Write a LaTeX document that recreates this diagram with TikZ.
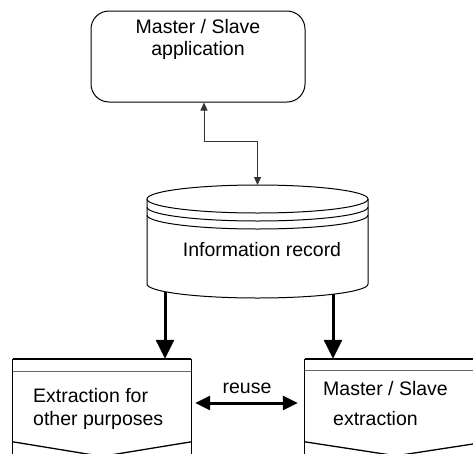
\documentclass[tikz,border=0pt]{standalone}
\usepackage{fontspec}
\setmainfont{Liberation Sans}
\usetikzlibrary{arrows.meta}

\begin{document}
\begin{tikzpicture}[x=1pt,y=1pt,
  every node/.style={font=\fontsize{19.5}{22.5}\selectfont, inner sep=0pt},
  frame/.style={draw=black, line width=1pt},
  boxside/.style={draw=black, line width=1.3pt},
  boxtop/.style={draw=black, line width=1.8pt},
  boxrule/.style={draw=black!60, line width=1pt},
  placeholder/.style={draw=none, rectangle},
  thinarrow/.style={draw=black!80, line width=0.9pt,
    {Triangle[length=8pt,width=7pt]}-{Triangle[length=8pt,width=7pt]}},
  boldarrow/.style={line width=3pt, -{Triangle[length=19pt,width=18pt]}},
  reusearrow/.style={line width=3pt,
    {Triangle[length=15pt,width=14pt]}-{Triangle[length=15pt,width=14pt]}},
]
\useasboundingbox (0,0) rectangle (473,-453);
\clip (0,0) rectangle (473,-453);

% application box
\node[frame, rounded corners=18pt, minimum width=214pt, minimum height=91pt] (app) at (198,-56.5) {};
\node[align=center, anchor=north] (apptext) at (198,-19) {Master / Slave\\application};

% information record (stacked cylinder)
\coordinate (cyltop) at (257.5,-199);
\coordinate (rectop) at (257.5,-185);
\draw[frame] (cyltop) ellipse [x radius=110.5, y radius=14];
\draw[frame] ([shift={(-110.5,-8)}]cyltop) arc[start angle=180, end angle=360, x radius=110.5, y radius=14];
\draw[frame] ([shift={(-110.5,-16)}]cyltop) arc[start angle=180, end angle=360, x radius=110.5, y radius=14];
\draw[frame] ([xshift=-110.5]cyltop) -- ++(0,-85)
  arc[start angle=180, end angle=360, x radius=110.5, y radius=14] -- ([xshift=110.5]cyltop);
\node (rec) at (262,-249.5) {Information record};
\coordinate (outL) at (165,-291.7);
\coordinate (outR) at (333,-294.2);

% link between application and record
\draw[thinarrow] ([xshift=6pt]app.south) -- ++(0,-39) -| (rectop);

% extraction for other purposes
\node[placeholder, minimum width=178pt, minimum height=101pt] (extbox) at (102,-409.5) {};
\draw[boxside] (extbox.south west) -- (extbox.north west);
\draw[boxside] (extbox.south east) -- (extbox.north east);
\draw[boxtop] (extbox.north west) -- (extbox.north east);
\draw[boxrule] ([yshift=-13pt]extbox.north west) -- ([yshift=-13pt]extbox.north east);
\draw[boxside] ([yshift=-83pt]extbox.north west) -- ([yshift=-97.6pt]extbox.north) -- ([yshift=-83pt]extbox.north east);
\node[anchor=base west, align=left] (ext) at (33,-425) {Extraction for\\other purposes};

% master / slave extraction
\node[placeholder, minimum width=182pt, minimum height=101pt] (msbox) at (396,-409.5) {};
\draw[boxside] (msbox.south west) -- (msbox.north west);
\draw[boxside] (msbox.south east) -- (msbox.north east);
\draw[boxtop] (msbox.north west) -- (msbox.north east);
\draw[boxrule] ([yshift=-12pt]msbox.north west) -- ([yshift=-12pt]msbox.north east);
\draw[boxside] ([yshift=-83pt]msbox.north west) -- ([yshift=-97pt]msbox.north) -- ([yshift=-83pt]msbox.north east);
\node[anchor=base west, align=left] (ms) at (323,-425) {Master / Slave\\[7.5pt]\hspace*{10pt}extraction};

% flows out of the record
\draw[boldarrow] (outL) -- (outL |- extbox.north);
\draw[boldarrow] (outR) -- (outR |- msbox.north);

% reuse between the two extractions
\draw[reusearrow] ([shift={(4pt,6.5pt)}]extbox.east) -- ([shift={(-7pt,6.5pt)}]msbox.west);
\node (reuse) at (247,-388.5) {reuse};
\end{tikzpicture}
\end{document}
